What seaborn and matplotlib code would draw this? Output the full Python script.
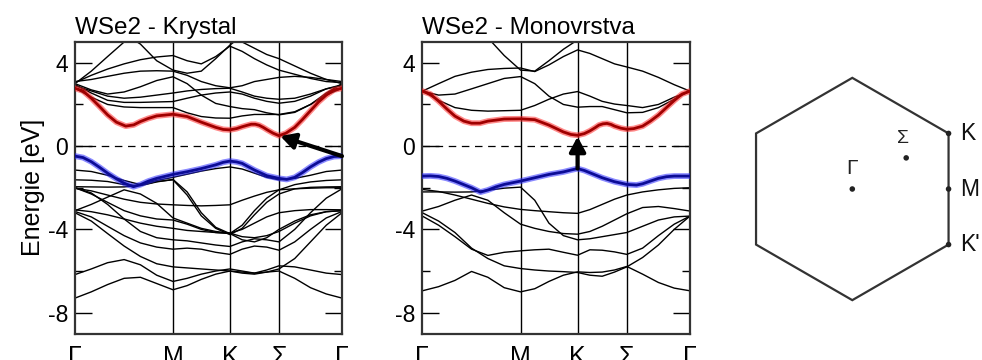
import numpy as np
import pandas as pd
import matplotlib
matplotlib.use("Agg")
import matplotlib.pyplot as plt
import seaborn as sns

# ---------------------------------------------------------------- k-path
k_labels = ["Γ", "M", "K", "Σ", "Γ"]
k_ticks = [0.0, 0.367, 0.58, 0.764, 1.0]

# common k grid for the black bands (Γ-M, M-K, K-Σ, Σ-Γ)
k_grid = [0.0, 0.061, 0.122, 0.184, 0.245, 0.306, 0.367, 0.42, 0.473, 0.527,
          0.58, 0.626, 0.672, 0.718, 0.764, 0.823, 0.882, 0.941, 1.0]

# ---------------------------------------------------------------- bulk WSe2
bulk_cb_k = [0, 0.03, 0.061, 0.092, 0.122, 0.155, 0.19, 0.22, 0.245, 0.275, 0.306, 0.367, 0.42, 0.473, 0.527,
             0.555, 0.58, 0.605, 0.626, 0.645, 0.66, 0.675, 0.69, 0.705, 0.72, 0.742, 0.764, 0.79, 0.823,
             0.852, 0.882, 0.912, 0.941, 0.97, 1.0]
bulk_cb_e = [2.78, 2.65, 2.3, 1.9, 1.5, 1.15, 0.96, 1.02, 1.18, 1.33, 1.45, 1.53, 1.42, 1.15, 0.9,
             0.8, 0.78, 0.84, 0.93, 1.0, 1.05, 1.05, 1.0, 0.9, 0.78, 0.62, 0.5, 0.62, 0.9,
             1.28, 1.7, 2.12, 2.45, 2.7, 2.78]

bulk_vb_k = [0, 0.03, 0.061, 0.092, 0.122, 0.155, 0.184, 0.219, 0.245, 0.275, 0.306, 0.367, 0.42, 0.473,
             0.527, 0.555, 0.58, 0.605, 0.626, 0.672, 0.718, 0.764, 0.793, 0.823, 0.852, 0.882, 0.912,
             0.941, 0.97, 1.0]
bulk_vb_e = [-0.48, -0.55, -0.75, -1.02, -1.3, -1.57, -1.78, -1.95, -1.85, -1.68, -1.55, -1.36, -1.23, -1.08,
             -0.9, -0.78, -0.72, -0.76, -0.83, -1.15, -1.42, -1.55, -1.6, -1.5, -1.27, -1.0, -0.77,
             -0.6, -0.5, -0.48]

bulk_bands = [
    # conduction
    [2.78, 2.35, 2.0, 1.88, 1.85, 1.85, 1.85, 1.6, 1.42, 1.35, 1.34, 1.45, 1.52, 1.52, 1.52, 1.65, 2.0, 2.45, 2.78],
    [2.95, 2.55, 2.2, 2.1, 2.1, 2.12, 2.14, 2.3, 2.45, 2.55, 2.6, 2.5, 2.3, 2.15, 2.06, 2.15, 2.4, 2.75, 2.95],
    [3.0, 2.7, 2.5, 2.6, 2.85, 3.15, 3.33, 3.0, 2.45, 2.05, 1.9, 1.8, 1.75, 1.6, 1.5, 1.62, 2.0, 2.55, 3.0],
    [2.9, 2.65, 2.4, 2.3, 2.35, 2.45, 2.55, 2.65, 2.72, 2.76, 2.78, 2.6, 2.4, 2.3, 2.25, 2.3, 2.5, 2.75, 2.9],
    [3.05, 3.4, 3.7, 3.95, 4.15, 4.28, 4.35, 4.1, 3.95, 4.3, 4.8, 4.55, 4.2, 3.9, 3.65, 3.45, 3.25, 3.1, 3.05],
    [3.1, 3.2, 3.35, 3.5, 3.6, 3.62, 3.6, 3.4, 3.1, 2.9, 2.8, 2.9, 3.1, 3.2, 3.3, 3.35, 3.3, 3.2, 3.1],
    [7.0, 6.5, 6.0, 5.4, 4.9, 4.1, 3.65, 3.5, 3.6, 4.2, 4.85, 5.3, 5.8, 6.2, 6.5, 6.8, 7.0, 7.2, 7.3],
    [3.0, 3.6, 4.3, 5.0, 5.5, 6.0, 6.3, 6.0, 5.7, 5.4, 5.3, 5.0, 4.7, 4.4, 4.2, 3.85, 3.5, 3.2, 3.0],
    # valence
    [-1.15, -1.22, -1.4, -1.65, -1.85, -1.65, -1.5, -1.35, -1.2, -1.08, -1.0, -1.1, -1.3, -1.5, -1.62, -1.55, -1.4, -1.22, -1.15],
    [-1.62, -1.64, -1.7, -1.85, -1.9, -1.72, -1.6, -2.2, -3.2, -3.9, -4.2, -3.8, -3.1, -2.5, -2.1, -1.85, -1.72, -1.65, -1.62],
    [-1.95, -1.96, -1.97, -1.96, -1.88, -1.7, -1.62, -2.35, -3.35, -3.95, -4.25, -3.95, -3.3, -2.7, -2.3, -2.05, -1.98, -1.96, -1.95],
    [-2.02, -2.15, -2.35, -2.55, -2.7, -2.78, -2.82, -2.85, -2.87, -2.85, -2.82, -2.6, -2.4, -2.22, -2.1, -2.05, -2.02, -2.0, -2.0],
    [-3.1, -2.8, -2.45, -2.1, -2.3, -2.75, -3.45, -3.7, -3.95, -4.1, -4.18, -4.35, -4.4, -4.3, -4.1, -3.7, -3.35, -3.15, -3.1],
    [-2.0, -2.3, -2.7, -3.1, -3.35, -3.5, -3.55, -3.75, -4.0, -4.15, -4.2, -4.5, -4.6, -4.4, -4.0, -3.6, -3.3, -3.15, -3.1],
    [-3.14, -3.4, -3.85, -4.3, -4.65, -4.85, -4.95, -4.9, -4.95, -5.1, -5.2, -4.95, -4.8, -4.85, -5.0, -4.6, -4.0, -3.45, -3.14],
    [-3.2, -3.6, -4.2, -4.8, -5.3, -5.65, -5.8, -5.85, -5.9, -5.95, -6.0, -6.1, -6.15, -6.05, -5.9, -5.4, -4.6, -3.8, -3.2],
    [-2.0, -2.25, -2.8, -3.5, -4.1, -4.4, -4.5, -4.55, -4.65, -4.75, -4.82, -4.6, -4.45, -4.5, -4.6, -4.0, -3.2, -2.5, -2.05],
    [-3.06, -3.15, -3.3, -3.5, -3.7, -3.85, -3.95, -4.05, -4.1, -4.15, -4.18, -4.0, -3.7, -3.4, -3.2, -3.1, -3.05, -3.05, -3.06],
    [-6.17, -5.9, -5.6, -5.45, -5.7, -6.2, -6.5, -6.35, -6.15, -6.0, -5.9, -6.0, -6.1, -5.95, -5.75, -5.8, -5.95, -6.1, -6.17],
    [-7.3, -7.0, -6.65, -6.35, -6.3, -6.6, -6.9, -6.7, -6.4, -6.15, -6.0, -6.05, -6.1, -6.05, -6.0, -6.35, -6.8, -7.1, -7.3],
]

# ---------------------------------------------------------------- monolayer WSe2
mono_cb_k = [0, 0.03, 0.061, 0.092, 0.122, 0.155, 0.184, 0.215, 0.245, 0.306, 0.367, 0.42, 0.473, 0.527,
             0.555, 0.58, 0.605, 0.626, 0.645, 0.66, 0.675, 0.69, 0.705, 0.718, 0.742, 0.764, 0.79,
             0.823, 0.852, 0.882, 0.912, 0.941, 0.97, 1.0]
mono_cb_e = [2.64, 2.5, 2.16, 1.78, 1.44, 1.2, 1.1, 1.1, 1.2, 1.3, 1.31, 1.27, 1.01, 0.68,
             0.56, 0.52, 0.6, 0.73, 0.88, 1.01, 1.07, 1.09, 1.04, 0.96, 0.86, 0.81, 0.84,
             0.96, 1.2, 1.49, 1.85, 2.19, 2.5, 2.64]

mono_vb_k = [0, 0.03, 0.061, 0.092, 0.122, 0.155, 0.184, 0.217, 0.245, 0.275, 0.306, 0.367, 0.42, 0.473,
             0.527, 0.555, 0.58, 0.605, 0.626, 0.672, 0.718, 0.764, 0.80, 0.823, 0.852, 0.882, 0.912,
             0.941, 1.0]
mono_vb_e = [-1.44, -1.43, -1.46, -1.55, -1.68, -1.85, -2.0, -2.21, -2.11, -1.96, -1.84, -1.68, -1.52, -1.36,
             -1.24, -1.15, -1.08, -1.17, -1.28, -1.52, -1.71, -1.84, -1.87, -1.81, -1.68, -1.55, -1.47,
             -1.44, -1.44]

mono_bands = [
    # conduction
    [2.64, 2.2, 1.85, 1.72, 1.68, 1.7, 1.72, 1.95, 2.25, 2.5, 2.62, 2.4, 2.15, 2.02, 1.95, 1.85, 2.0, 2.35, 2.64],
    [2.64, 2.45, 2.5, 2.75, 3.0, 3.25, 3.34, 3.0, 2.4, 2.0, 1.87, 1.9, 1.9, 1.75, 1.6, 1.62, 1.85, 2.25, 2.64],
    [2.64, 3.0, 3.35, 3.55, 3.68, 3.73, 3.75, 3.58, 3.9, 4.3, 4.62, 4.45, 4.2, 3.95, 3.8, 3.6, 3.3, 2.95, 2.64],
    [7.0, 6.8, 6.4, 6.0, 5.2, 4.35, 3.65, 3.6, 4.1, 4.65, 5.1, 5.4, 5.6, 5.8, 6.0, 6.2, 6.4, 6.6, 6.8],
    # valence
    [-2.08, -2.18, -2.35, -2.55, -2.75, -2.92, -3.04, -3.1, -3.15, -3.2, -3.23, -3.05, -2.8, -2.55, -2.35, -2.2, -2.1, -2.03, -2.0],
    [-2.2, -2.2, -2.21, -2.2, -2.12, -2.02, -1.97, -2.6, -3.7, -4.3, -4.5, -4.45, -4.35, -4.25, -4.15, -3.85, -3.55, -3.4, -3.36],
    [-3.12, -2.9, -2.6, -2.35, -2.6, -3.2, -3.75, -3.95, -4.1, -4.2, -4.23, -4.1, -3.85, -3.55, -3.25, -2.95, -2.9, -3.0, -3.12],
    [-3.36, -3.8, -4.35, -4.95, -5.25, -5.1, -5.03, -4.98, -4.95, -5.1, -5.24, -4.98, -5.0, -5.08, -5.2, -4.9, -4.3, -3.75, -3.36],
    [-3.2, -3.6, -4.15, -4.9, -5.4, -5.75, -5.88, -5.95, -6.0, -6.03, -6.07, -6.2, -6.25, -6.05, -5.8, -5.35, -4.75, -4.0, -3.36],
    [-6.95, -6.75, -6.45, -6.02, -6.3, -6.8, -7.0, -6.85, -6.5, -6.2, -6.04, -6.07, -6.05, -5.95, -5.78, -6.15, -6.55, -6.82, -6.95],
]

panel_titles = ["WSe2 - Krystal", "WSe2 - Monovrstva"]
y_label = "Energie [eV]"

# ---------------------------------------------------------------- Brillouin zone
bz_point_labels = ["K", "M", "K'"]
sigma_fraction = 0.56  # position of Σ along Γ-K

# ---------------------------------------------------------------- style
sns.set_theme(style="ticks")
plt.rcParams["font.family"] = ["Liberation Sans", "DejaVu Sans"]
plt.rcParams["axes.edgecolor"] = "#333333"
plt.rcParams["text.color"] = "black"
plt.rcParams["axes.labelcolor"] = "black"
plt.rcParams["xtick.color"] = "black"
plt.rcParams["ytick.color"] = "black"
plt.rcParams["axes.unicode_minus"] = False

W, H = 982, 360
fig = plt.figure(figsize=(W / 100, H / 100), dpi=100)


def to_frame(bands):
    rows = []
    for i, e in enumerate(bands):
        for k, v in zip(k_grid, e):
            rows.append((i, k, v))
    return pd.DataFrame(rows, columns=["band", "k", "E"])


def band_panel(ax, bands, cb_k, cb_e, vb_k, vb_e, title, arrow_from, arrow_to, show_ylabel):
    df = to_frame(bands)
    sns.lineplot(data=df, x="k", y="E", units="band", estimator=None, sort=False,
                 color="black", lw=1.0, ax=ax, legend=False)
    for kk in k_ticks[1:-1]:
        ax.axvline(kk, color="black", lw=1.0, zorder=1)
    ax.axhline(0, color="black", lw=0.9, ls=(0, (6, 4.5)), zorder=1)

    cb = pd.DataFrame({"k": cb_k, "E": cb_e})
    vb = pd.DataFrame({"k": vb_k, "E": vb_e})
    sns.lineplot(data=cb, x="k", y="E", sort=False, color="#ff2a2a", lw=4.2, alpha=0.55, ax=ax, zorder=4)
    sns.lineplot(data=cb, x="k", y="E", sort=False, color="#a00000", lw=2.0, ax=ax, zorder=5)
    sns.lineplot(data=vb, x="k", y="E", sort=False, color="#2a2aff", lw=4.2, alpha=0.55, ax=ax, zorder=4)
    sns.lineplot(data=vb, x="k", y="E", sort=False, color="#0c0c96", lw=2.0, ax=ax, zorder=5)

    ax.annotate("", xy=arrow_to, xytext=arrow_from,
                arrowprops=dict(arrowstyle="-|>,head_length=0.55,head_width=0.3",
                                lw=3.0, color="black", shrinkA=0, shrinkB=1,
                                mutation_scale=16), zorder=6)

    ax.set_xlim(0, 1)
    ax.set_ylim(-9, 5)
    ax.set_xticks(k_ticks)
    ax.set_xticklabels(k_labels, fontsize=18)
    ax.tick_params(axis="x", length=0, pad=8)
    ax.set_yticks([4, 0, -4, -8])
    ax.set_yticks([2, -2, -6], minor=True)
    ax.tick_params(axis="y", which="major", direction="in", length=12, width=1.0,
                   left=True, right=True, labelsize=16.5, pad=5)
    ax.tick_params(axis="y", which="minor", direction="in", length=6, width=1.0,
                   left=True, right=True)
    ax.set_xlabel("")
    ax.set_ylabel(y_label if show_ylabel else "", fontsize=18, labelpad=2)
    ax.set_title(title, loc="left", fontsize=17.5, pad=6)
    for s in ax.spines.values():
        s.set_linewidth(1.6)
        s.set_visible(True)


ax1 = fig.add_axes([75 / W, 1 - 333.5 / H, 267 / W, 291.5 / H])
ax2 = fig.add_axes([422.3 / W, 1 - 333.5 / H, 267.7 / W, 291.5 / H])

# indirect gap: valence top at Γ (right end) -> conduction bottom at Σ
i_cbm = int(np.argmin(bulk_cb_e))
band_panel(ax1, bulk_bands, bulk_cb_k, bulk_cb_e, bulk_vb_k, bulk_vb_e, panel_titles[0],
           (bulk_vb_k[-1], bulk_vb_e[-1]), (bulk_cb_k[i_cbm], bulk_cb_e[i_cbm]), True)

# direct gap at K
j_vbm = int(np.argmax(mono_vb_e))
j_cbm = int(np.argmin(mono_cb_e))
band_panel(ax2, mono_bands, mono_cb_k, mono_cb_e, mono_vb_k, mono_vb_e, panel_titles[1],
           (mono_vb_k[j_vbm], mono_vb_e[j_vbm]), (mono_cb_k[j_cbm], mono_cb_e[j_cbm]), False)

# ---------------------------------------------------------------- hexagonal BZ
cx, cy, R = 852.3, 189.0, 111.15
ax3 = fig.add_axes([700 / W, 0, 282 / W, 1])
ax3.set_xlim((700 - cx) / R, (982 - cx) / R)
ax3.set_ylim((cy - 360) / R, cy / R)
ax3.axis("off")

ang = np.deg2rad(np.arange(30, 391, 60))
ax3.plot(np.cos(ang), np.sin(ang), color="#333333", lw=1.6, solid_joinstyle="miter")

kx, ky = np.cos(np.pi / 6), np.sin(np.pi / 6)
pts = {"Γ": (0.0, 0.0), "Σ": (sigma_fraction * kx, sigma_fraction * ky),
       "K": (kx, ky), "M": (kx, 0.0), "K'": (kx, -ky)}
sns.scatterplot(x=[p[0] for p in pts.values()], y=[p[1] for p in pts.values()],
                color="#222222", s=16, ax=ax3, edgecolor="none", zorder=3)
for name in bz_point_labels:
    ax3.annotate(name, pts[name], xytext=(8, 0), textcoords="offset points",
                 ha="left", va="center", fontsize=16.5, color="#111111")
ax3.annotate("Γ", pts["Γ"], xytext=(0, 8), textcoords="offset points",
             ha="center", va="bottom", fontsize=15, color="#222222")
ax3.annotate("Σ", pts["Σ"], xytext=(-2, 8), textcoords="offset points",
             ha="center", va="bottom", fontsize=14, color="#222222")

fig.savefig("out.png", dpi=100)
